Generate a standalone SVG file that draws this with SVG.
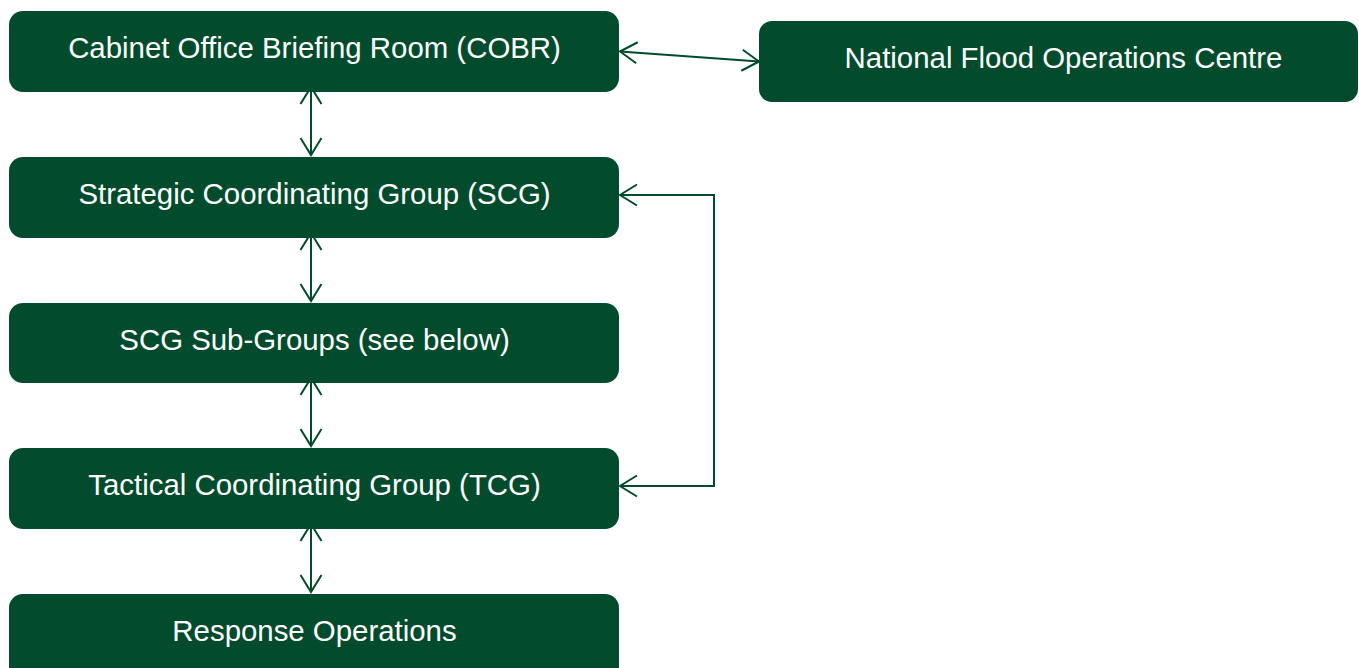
<svg xmlns="http://www.w3.org/2000/svg" width="1359" height="668" viewBox="0 0 1359 668">
<style>
.box{fill:#024c2d;}
.lbl{font-family:"Liberation Sans",Arial,sans-serif;font-size:29.4px;fill:#ffffff;text-anchor:middle;}
.con{fill:none;stroke:#024c2d;stroke-width:2;}
</style>
<defs>
<marker id="arr" viewBox="-20 -12 22 24" refX="0" refY="0" markerWidth="22" markerHeight="24" markerUnits="userSpaceOnUse" orient="auto-start-reverse">
<path d="M-17,-10.5 L0,0 L-17,10.5" fill="none" stroke="#024c2d" stroke-width="2"/>
</marker>
</defs>
<rect width="1359" height="668" fill="#ffffff"/>
<g id="connectors">
<line class="con" x1="311" y1="87" x2="311" y2="155" marker-start="url(#arr)" marker-end="url(#arr)"/>
<line class="con" x1="311" y1="233" x2="311" y2="301" marker-start="url(#arr)" marker-end="url(#arr)"/>
<line class="con" x1="311" y1="378" x2="311" y2="446" marker-start="url(#arr)" marker-end="url(#arr)"/>
<line class="con" x1="311" y1="524" x2="311" y2="592" marker-start="url(#arr)" marker-end="url(#arr)"/>
<line class="con" x1="620" y1="51.5" x2="759" y2="61.5" marker-start="url(#arr)" marker-end="url(#arr)"/>
<polyline class="con" points="620,195 714,195 714,486 620,486" marker-start="url(#arr)" marker-end="url(#arr)"/>
</g>
<g id="cobr">
<rect class="box" x="9" y="11" width="610" height="81" rx="14"/>
<text class="lbl" x="314.5" y="58">Cabinet Office Briefing Room (COBR)</text>
</g>
<g id="nfoc">
<rect class="box" x="759" y="21" width="599" height="81" rx="13"/>
<text class="lbl" x="1063.5" y="68">National Flood Operations Centre</text>
</g>
<g id="scg">
<rect class="box" x="9" y="157" width="610" height="81" rx="14"/>
<text class="lbl" x="314.5" y="204">Strategic Coordinating Group (SCG)</text>
</g>
<g id="scg-sub">
<rect class="box" x="9" y="303" width="610" height="80" rx="14"/>
<text class="lbl" x="314.5" y="350">SCG Sub-Groups (see below)</text>
</g>
<g id="tcg">
<rect class="box" x="9" y="448" width="610" height="81" rx="14"/>
<text class="lbl" x="314.5" y="495">Tactical Coordinating Group (TCG)</text>
</g>
<g id="response">
<rect class="box" x="9" y="594" width="610" height="90" rx="14"/>
<text class="lbl" x="314.5" y="641">Response Operations</text>
</g>
</svg>
